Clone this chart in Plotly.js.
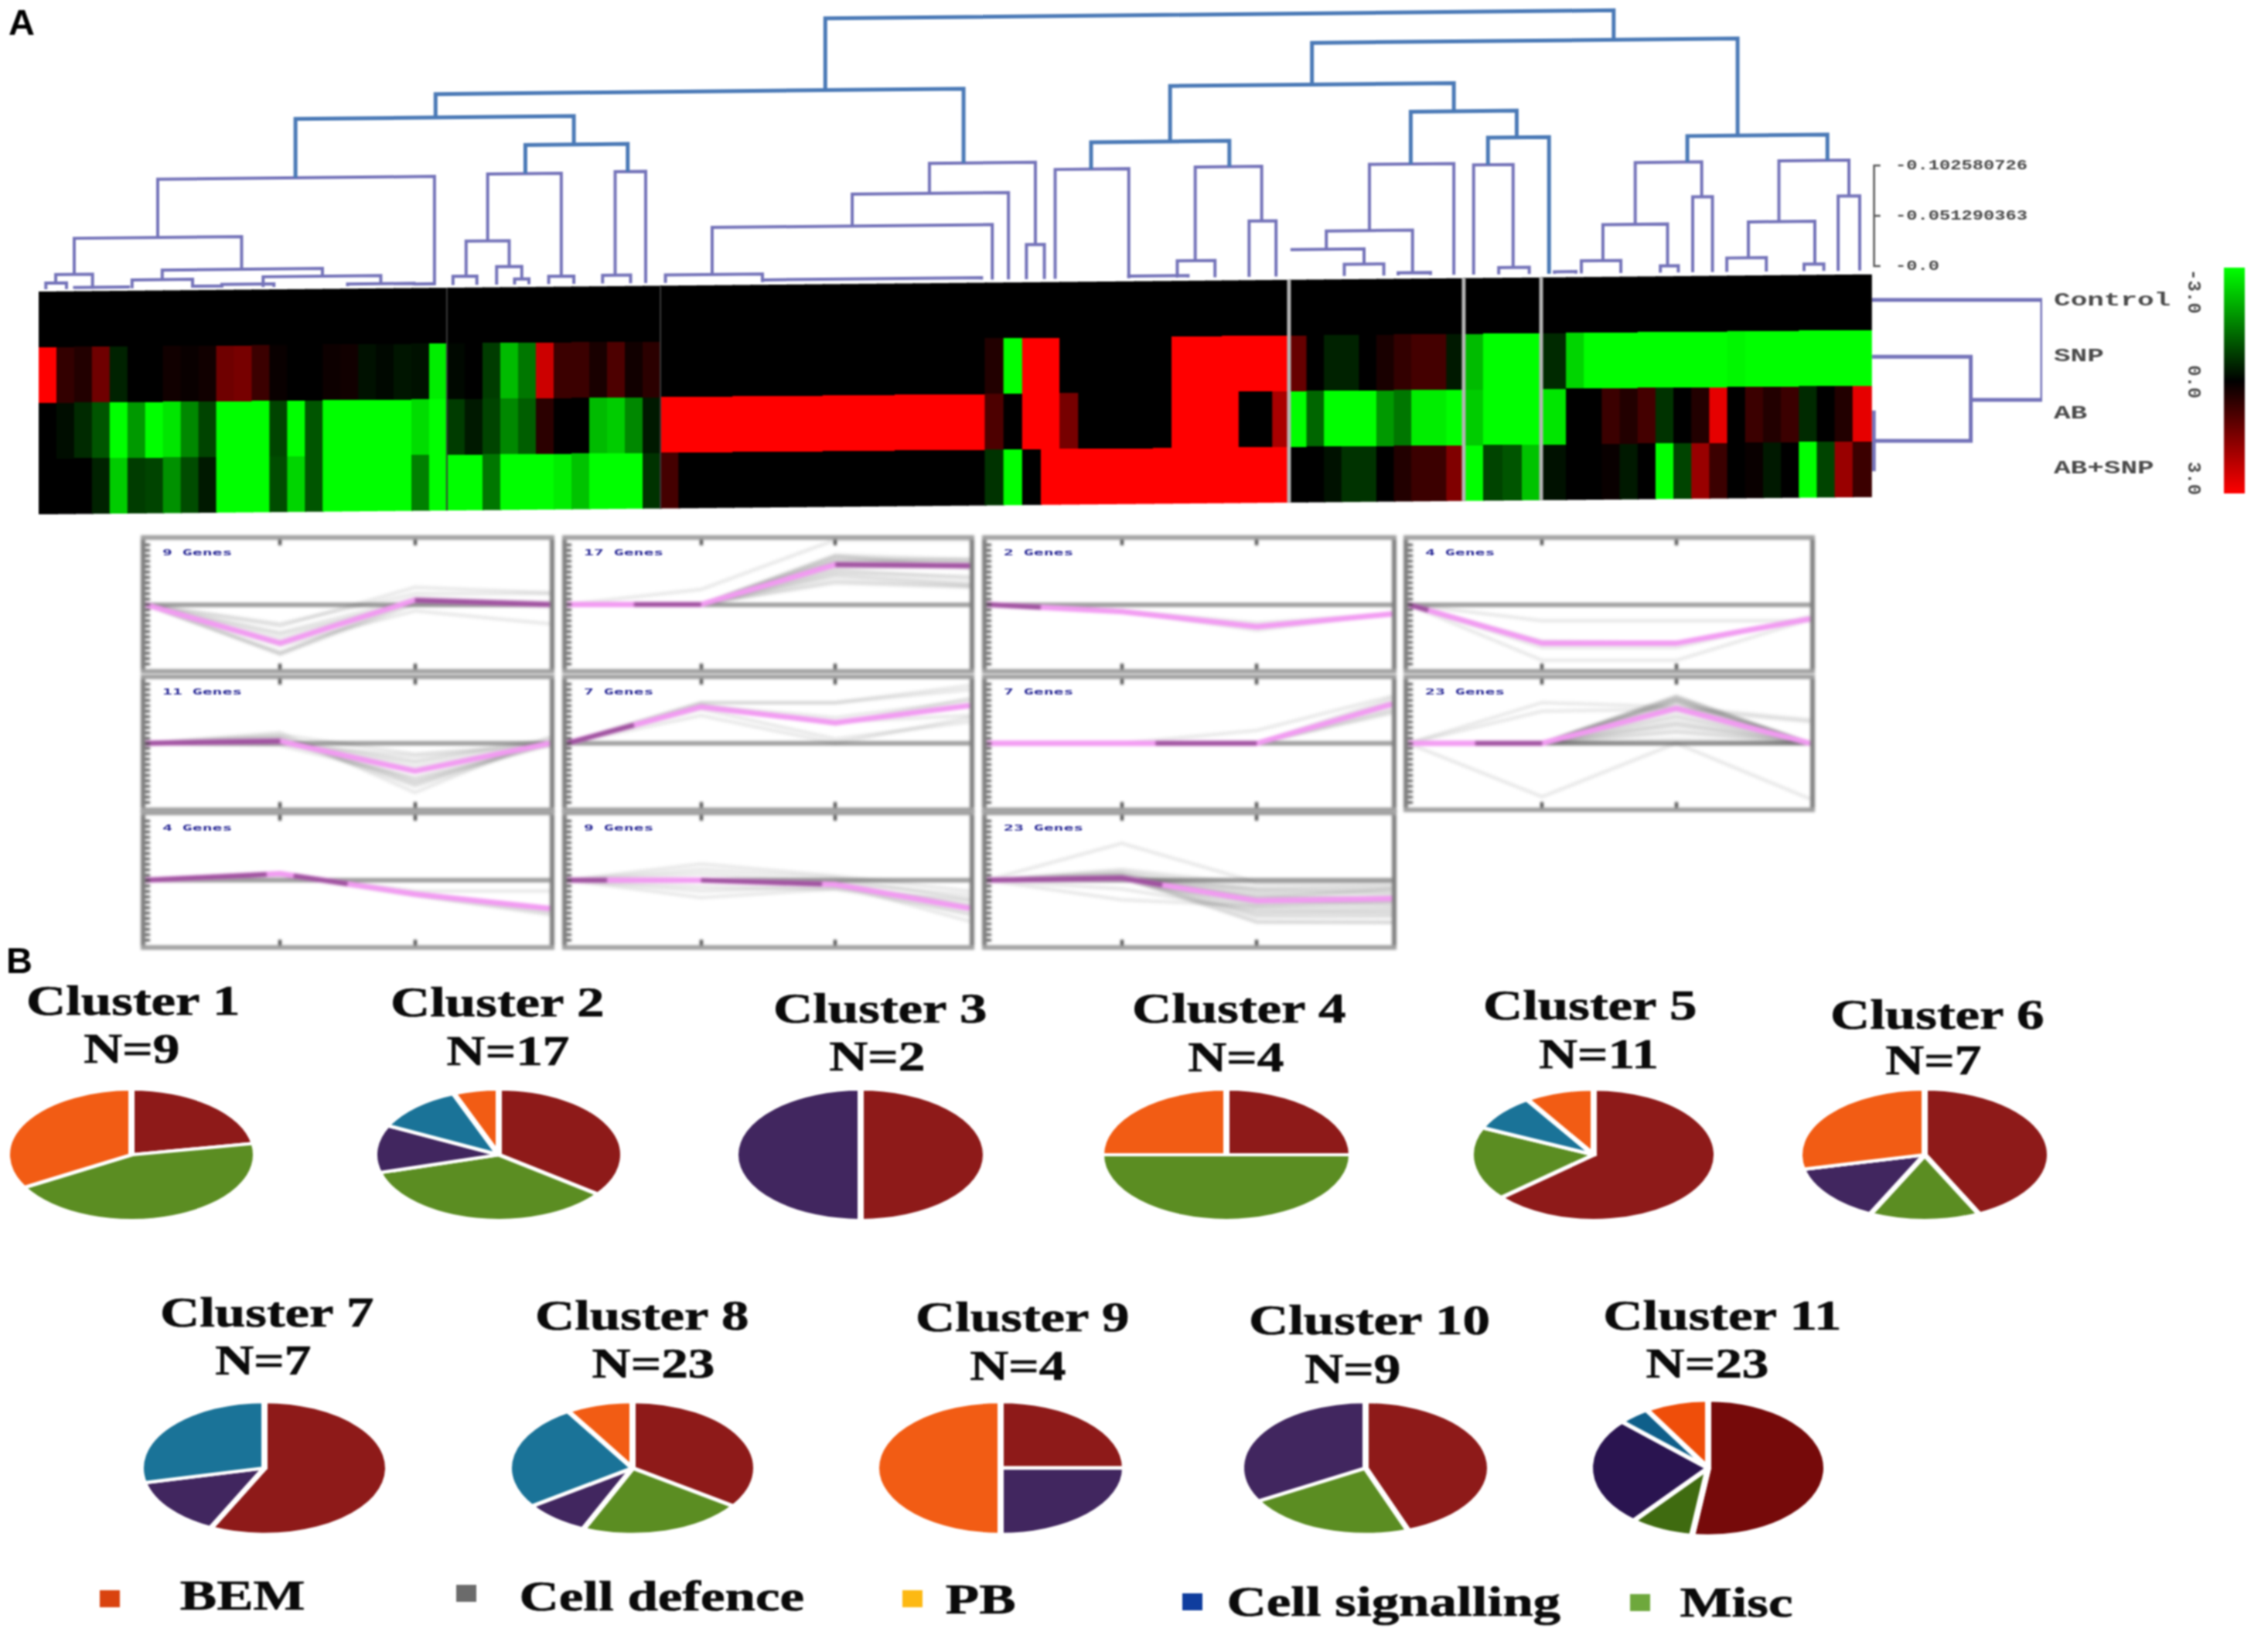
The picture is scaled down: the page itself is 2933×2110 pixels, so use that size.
<!DOCTYPE html>
<html><head><meta charset="utf-8">
<script src="https://cdn.plot.ly/plotly-3.0.1.min.js"></script>
<style>html,body{margin:0;padding:0;background:#fff;overflow:hidden}#g{width:2933px;height:2110px;filter:blur(1.3px)}</style>
</head><body><div id="g"></div>
<script>
/* ---------- heatmap data ---------- */
const rowNames = ['Control','SNP','AB','AB+SNP'];
const clusterSizes = [23,12,18,10,7,10,4,1,17];
const clusterEdges = [0,22.73,34.62,52.68,63.08,69.62,79.35,83.66,85.04,102];
const separators = [22.73,34.62,69.62,79.35,83.66];
const rowControl = [0,0,0,0,0,0,0,0,0,0,0,0,0,0,0,0,0,0,0,0,0,0,0, 0,0,0,0,0,0,0,0,0,0,0,0, 0,0,0,0,0,0,0,0,0,0,0,0,0,0,0,0,0,0,0,0,0,0,0,0,0,0,0,0,0,0,0,0,0,0,0, 0,0,0,0,0,0,0,0,0,0, 0,0,0,0, 0, 0,0,0,0,0,0,0,0,0,0,0,0,0,0,0,0,0];
const rowSNP = [3,.6,.4,1.3,-.4,0,0,.2,.1,.2,1.3,1.4,.7,.1,0,0,.15,.2,-.2,-.1,-.25,-.2,-2.8,
  -.1,0,-.7,-2.2,-1.4,2.4,.7,.7,.3,.9,.2,.5,
  0,0,0,0,0,0,0,0,0,0,0,0,0,0,0,0,0,0,.4,-3,3,3,0,0,0,0,0,0,3,3,3,3,3,3,3,
  1.2,0,-.4,-.4,0,.3,.6,.8,.8,-.3,
  -2.2,-3,-3,-3,
  -.5,
  -2.5,-3,-3,-3,-3,-3,-3,-3,-3,-2.9,-3,-3,-3,-3,-3,-3,-3];
const rowAB = [0,-.15,-.5,-1,-3,-1.8,-3,-2.7,-1.6,-.8,-3,-3,-3,-.8,-3,-1,-3,-3,-3,-3,-3,-2.6,-3,
  -.7,-.3,-.8,-1.6,-1.1,.5,0,0,-2.2,-2.4,-1.6,-.3,
  3,3,3,3,3,3,3,3,3,3,3,3,3,3,3,3,3,3,.9,0,3,3,1.4,0,0,0,0,0,3,3,3,3,0,0,2,
  -3,-1.2,-3,-3,-3,-1.8,-1.4,-2.8,-2.8,-3,
  -2.4,-3,-3,-3,
  -2.7,
  0,0,.7,.4,.8,-.6,0,.4,2.7,0,.7,.4,.7,-.5,0,.4,2.7];
const rowABSNP = [0,0,0,-.4,-2.4,-.7,-.8,-1.7,-.9,-.3,-3,-3,-3,-.9,-2.5,-1,-3,-3,-3,-3,-3,-1.5,-3,
  -3,-3,-1.4,-3,-3,-3,-2.8,-2.3,-3,-3,-3,-.6,
  .8,0,0,0,0,0,0,0,0,0,0,0,0,0,0,0,0,0,-.6,-3,0,3,3,3,3,3,3,3,3,3,3,3,3,3,3,
  0,0,-.2,-.6,-.6,0,.4,.7,.7,1.5,
  -3,-.8,-1,-2.3,
  -.2,
  0,0,.1,-.3,0,-3,-.8,1.8,.7,0,.1,-.3,0,-3,-.8,1.8,.7];
const colorStops = [-3,-2,-1,0,1,2,3];
const colorTicks = ['-3.0','0.0','3.0'];

/* ---------- column dendrogram: [left pos, right pos, height, left child height, right child height] ---------- */
const dendroLinks = [
 [0.4,1.55,6.2,0,0],[0.95,3,14.8,6.2,0],[5.2,8.57,8.6,0,0],[17.2,20.9,2.1,0,0],[12.5,19.05,10.4,0,2.1],
 [6.88,15.8,18.3,8.6,10.4],[1.98,11.3,51.6,14.8,18.3],[6.63,22.04,110.9,51.6,0],[23.07,24.4,8.9,0,0],
 [26.5,27.3,5.5,0,0],[25.5,26.9,18.3,0,5.5],[23.8,26.2,44.6,8.9,18.3],[28.4,29.8,7.9,0,0],[25,29.1,112.9,44.6,7.9],
 [31.4,32.96,8.4,0,0],[32.1,33.8,113.8,8.4,0],[27.1,32.8,142,112.9,113.8],[14.3,29.8,171,110.9,142],
 [34.9,40.3,8,0,0],[37.5,53.1,56,8,0],[45.3,54,88.5,56,0],[55,56,35.3,0,0],[49.6,55.5,119,88.5,35.3],[22.1,51.5,194.8,171,119],
 [56.6,60.7,111.5,0,0],[63.4,65.5,17.1,0,0],[67.4,68.9,56.9,0,0],[64.4,68.1,112.5,17.1,56.9],[58.6,66.3,138.9,111.5,112.5],
 [72.7,74.9,11.8,0,0],[69.7,73.8,27.4,27.4,11.8],[75.7,77.5,2.5,0,0],[71.7,76.5,45.9,27.4,2.5],[74.1,78.8,113.4,45.9,0],
 [81.3,83,6.8,0,0],[79.9,82.1,111.8,0,6.8],[80.7,84.1,139.4,111.8,0],[76.4,82.3,166.7,113.4,139.4],[63,78.8,195.4,138.9,166.7],
 [85.9,88.1,12.9,0,0],[90.3,91.3,6.9,0,0],[87.1,90.7,49.5,12.9,6.9],[92.1,93.2,76.9,0,0],[88.9,92.6,112.5,49.5,76.9],
 [94,96.2,14.2,0,0],[98.3,99.4,7.1,0,0],[95.2,98.9,50.8,14.2,7.1],[100.2,101.4,76.2,0,0],[96.9,100.8,112.7,50.8,76.2],
 [91.8,99.6,139,112.5,112.7],[70.9,94.6,237.9,195.4,139],[43.8,87.7,267.9,194.8,237.9],
 [10.2,13.1,3,0,0],[40.3,52.5,2,0,0],[60.7,64,2,0,0],[84.4,85.6,2,0,0],[2,5,1.5,0,0],[8.6,10.2,1.5,0,0],[20.9,22,1.5,0,0]
];
const scaleTickHeights = [23.7,74.9,126.1];
const scaleTickText = ['-0.102580726','-0.051290363','-0.0'];
/* row dendrogram: row positions and merge distances */
const rowPos = [0.15,1.17,2.17,3.19];
const rowMerges = [0.01,0.58,1.0];

/* ---------- cluster profiles (x = 4 conditions) ---------- */
const panelGenes = [9,17,2,4,11,7,7,23,4,9,23];
const conditions = [0,1,2,3];
const mean1=[0,-1.8,0.2,0], mean2=[0,0,1.85,1.8], mean3=[0,-.33,-1.03,-.44], mean4=[0,-1.8,-1.8,-.67],
      mean5=[0,.1,-1.3,0], mean6=[0,1.7,.96,1.76], mean7=[0,0,0,1.83], mean8=[0,0,1.63,0],
      mean9=[0,.3,-.64,-1.3], mean10=[0,0,-.2,-1.3], mean11=[0,.1,-.95,-.85];
const means=[mean1,mean2,mean3,mean4,mean5,mean6,mean7,mean8,mean9,mean10,mean11];
const genes1=[[0,-2.3,0,0],[0,-1.4,.1,0],[0,-1,.8,.55],[0,-.9,.5,.5],[0,-1.9,-.3,-.9],[0,-2.3,.25,.05],[0,-2.2,.1,-.05],[0,-1.6,.2,-.1],[0,-1.3,.3,.1]];
const genes2=[[0,0,2.3,2.1],[0,0,2.2,2],[0,0,1.9,1.8],[0,0,1.4,1],[0,0,1.3,.9],[0,0,1.1,.85],[0,0,1.5,1.3],[0,.7,3,3],[0,0,2,1.9],[0,0,2.1,1.9],[0,0,1.9,1.75],[0,0,1.8,1.7],[0,0,1.7,1.8],[0,0,2.25,1.7],[0,0,1.6,1.2],[0,0,1,.8],[0,0,2,2.1]];
const genes3=[[0,-.3,-1.2,-.4],[0,-.3,-.85,-.45]];
const genes4=[[0,-.75,-.75,-.75],[0,-2.6,-2.6,-.7],[0,-1.7,-1.8,-.65],[0,-2,-2,-.55]];
const genes5=[[0,.4,-.5,0],[0,.5,-2.3,.3],[0,.2,-1.8,0],[0,.3,-1.7,-.1],[0,0,-.9,0],[0,-.1,-1.6,0],[0,0,-.6,-.1],[0,.2,-2,0],[0,.3,-1.9,.1],[0,0,-1.1,-.1],[0,.1,-.8,.2]];
const genes6=[[0,1.9,1.9,2.7],[0,1.9,1.9,2.5],[0,1.3,0,1.2],[0,1.7,1,1.3],[0,1.8,.9,2.1],[0,1.6,.2,1],[0,1.75,1.2,2]];
const genes7=[[0,0,.6,2.2],[0,0,0,1.4],[0,0,0,2.1],[0,0,0,1.6],[0,0,0,1.9],[0,0,0,1.5],[0,0,0,1.9]];
const genes8=[[0,0,2.2,0],[0,0,2.2,0],[0,0,2.1,0],[0,0,2.1,0],[0,0,2,0],[0,0,2,0],[0,0,1.9,0],[0,0,1.9,0],[0,1.9,1.7,1.1],[0,1.5,1.6,1],[0,-2.5,0,-2.6],[0,0,1,0],[0,0,.5,0],[0,0,.2,0],[0,0,1.3,0],[0,0,0,0],[0,0,.8,0],[0,0,.6,0],[0,0,1.2,0],[0,0,1.5,0],[0,0,0,0],[0,0,1.7,0],[0,0,.9,0]];
const genes9=[[0,.25,-.7,-1.6],[0,.3,-.5,-.5],[0,.35,-.7,-1.5],[0,.2,-.6,-1.4]];
const genes10=[[0,.75,.2,-.5],[0,-.8,-.4,-.9],[0,.5,.1,-.9],[0,0,-.2,-1.9],[0,0,-.2,-1.6],[0,-.5,-.3,-1.1],[0,.3,-.1,-1.2],[0,0,-.1,-.7],[0,-.3,-.4,-1.5]];
const genes11=[[0,1.7,-.1,-.1],[0,.5,-.2,-.2],[0,-.9,-1.2,-1.2],[0,.1,-1.95,-1.95],[0,.2,-1.9,-1.95],[0,.1,-1.7,-1.7],[0,.2,-1.5,-1.4],[0,.1,-1.3,-1.3],[0,.3,-1.1,-.9],[0,.1,-.9,-.8],[0,.1,-.8,-.7],[0,.2,-.6,-.5],[0,.3,-.5,-.6],[0,.1,-.4,-.4],[0,0,-1,-1],[0,.1,-1.2,-1],[0,.2,-.9,-1.1],[0,.2,-.7,-.9],[0,.1,-1,-.8],[0,-.4,-1.4,-1.5],[0,.1,-.8,-.4],[0,.4,-.4,-.3],[0,.1,-1.6,-1.6]];
const genes=[genes1,genes2,genes3,genes4,genes5,genes6,genes7,genes8,genes9,genes10,genes11];
/* stretches of each mean line where the gene lines pile up and darken it */
const pileUps=[[[2,3]],[[.5,1],[2,3]],[[0,.4]],[[0,.15]],[[0,1]],[[0,.5]],[[1.25,2]],[[.5,1]],[[0,.9],[1.1,1.5]],[[0,.3],[1,1.9]],[[0,1.3]]];

/* ---------- pies ---------- */
const clusterNames=['Cluster 1','Cluster 2','Cluster 3','Cluster 4','Cluster 5','Cluster 6','Cluster 7','Cluster 8','Cluster 9','Cluster 10','Cluster 11'];
const clusterN=['N=9','N=17','N=2','N=4','N=11','N=7','N=7','N=23','N=4','N=9','N=23'];
const sliceLabels=['Cell defence','Misc','PB','Cell signalling','BEM'];
const slices1=[2,4,0,0,3], slices2=[6,6,2,2,1], slices3=[1,0,1,0,0], slices4=[1,2,0,0,1], slices5=[7,2,0,1,1], slices6=[3,1,1,0,2],
      slices7=[4,0,1,2,0], slices8=[8,5,2,6,2], slices9=[1,0,1,0,2], slices10=[4,2,3,0,0], slices11=[12,2,6,1,2];
const sliceSets=[slices1,slices2,slices3,slices4,slices5,slices6,slices7,slices8,slices9,slices10,slices11];
const legendNames=['BEM','Cell defence','PB','Cell signalling','Misc'];

/* ---------- styles & layout geometry ---------- */
const W=2933,H=2110;
const px=x=>x/W, py=y=>1-y/H;
const colPx=23.225, colLeft=50;
const tiltRows=0.31/102, tiltDist=0.188;
const green='#00ff00',red='#ff0000';
const cscale=[[0,green],[.5,'#000000'],[1,red]];
const data=[], shapes=[], ann=[], stretch=[];
const layout={width:W,height:H,margin:{l:0,r:0,t:0,b:0,pad:0},paper_bgcolor:'#fff',plot_bgcolor:'rgba(0,0,0,0)',showlegend:false,
  coloraxis:{cmin:-3,cmax:3,colorscale:cscale,showscale:false},hovermode:false};
const hidden={visible:false,showgrid:false,zeroline:false,fixedrange:true};

/* main axes */
layout.xaxis={...hidden,domain:[0,1],range:[-colLeft/colPx,(W-colLeft)/colPx]};
layout.yaxis={...hidden,domain:[py(670),py(340)],range:[(670-377)/72,(340-377)/72],anchor:'x'};
layout.yaxis2={...hidden,domain:[py(380),py(0)],range:[-4.7,294.9],anchor:'x'};
layout.xaxis2={...hidden,domain:[px(2421),px(2641)],range:[0,1],anchor:'y'};
layout.xaxis3={...hidden,domain:[px(2876),px(2903)],range:[0,1],anchor:'y3'};
layout.yaxis3={...hidden,domain:[py(638),py(346)],range:[3,-3],anchor:'x3'};

/* heatmap columns */
const rows=[rowControl,rowSNP,rowAB,rowABSNP];
let k=0;
clusterSizes.forEach((n,g)=>{
  const a=clusterEdges[g],b=clusterEdges[g+1],w=(b-a)/n;
  for(let i=0;i<n;i++,k++){
    const c0=a+i*w,c1=a+(i+1)*w,mid=(c0+c1)/2,t=mid*tiltRows;
    data.push({type:'heatmap',x:[c0,c1+0.1],y:[0,1,2,3,4].map(r=>r-t),z:rows.map(r=>[r[k]]),coloraxis:'coloraxis',xaxis:'x',yaxis:'y',zsmooth:false,hoverinfo:'skip'});
  }
});
/* cluster separators */
separators.forEach((c,i)=>{
  data.push({type:'scatter',mode:'lines',x:[c,c],y:[0-c*tiltRows,4-c*tiltRows],xaxis:'x',yaxis:'y',hoverinfo:'skip',
    line:{color:i<2?'#3a3a3a':'#b4b4b4',width:i<2?2:5}});
});
/* column dendrogram */
function links(filter,color,width){
  const xs=[],ys=[];
  dendroLinks.filter(filter).forEach(([l,r,h,hl,hr])=>{
    const T=c=>c*tiltDist;
    xs.push(l,l,r,r,null);
    ys.push(hl+T(l),h+T(l),h+T(r),hr+T(r),null);
  });
  data.push({type:'scatter',mode:'lines',x:xs,y:ys,xaxis:'x',yaxis:'y2',hoverinfo:'skip',line:{color,width}});
}
links(d=>d[2]<125,'#7473b9',4);
links(d=>d[2]>=125,'#4a79b6',5);
/* height scale bracket */
{const c=102.2,d=.35,T=h=>h;
 data.push({type:'scatter',mode:'lines',x:[c+d,c,c,c+d,null,c,c+d],y:[T(scaleTickHeights[0]),T(scaleTickHeights[0]),T(scaleTickHeights[2]),T(scaleTickHeights[2]),null,T(scaleTickHeights[1]),T(scaleTickHeights[1])],
   xaxis:'x',yaxis:'y2',hoverinfo:'skip',line:{color:'#555',width:2.5}});}
/* row dendrogram */
{const [c,s,a,b]=rowPos,[m0,m1,m2]=rowMerges,ab=(a+b)/2,sab=(s+ab)/2+0.02;
 data.push({type:'scatter',mode:'lines',
   x:[0,m0,m0,0,null,m0,m1,m1,0,null,m1,m2,m2,0],
   y:[a,a,b,b,null,ab,ab,s,s,null,sab,sab,c,c],xaxis:'x2',yaxis:'y',hoverinfo:'skip',line:{color:'#7473b9',width:5}});}
/* colour bar */
data.push({type:'heatmap',x:[0,1],y:colorStops,z:colorStops.map(v=>[v,v]),coloraxis:'coloraxis',xaxis:'x3',yaxis:'y3',zsmooth:'best',hoverinfo:'skip'});

/* text helper */
function T(text,x,y,size,family,color,sx,anchor,angle){
  ann.push({text,xref:'paper',yref:'paper',x:px(x),y:py(y),xanchor:anchor||'center',yanchor:'middle',showarrow:false,
    font:{size,family,color},textangle:angle||0,borderpad:0,borderwidth:0});
  stretch.push({sx:sx||1,anchor:anchor||'center',heavy:size>=50});
}
T('<b>A</b>',28,28,47,'Liberation Sans','#000');
T('<b>B</b>',25,1241,47,'Liberation Sans','#000');
const mono='Liberation Mono', serif='Liberation Serif';
[388,461,534,605].forEach((y,i)=>T('<b>'+rowNames[i]+'</b>',2656,y,24,mono,'#4a4a4a',1.5,'left'));
[214,279,344].forEach((y,i)=>T('<b>'+scaleTickText[i]+'</b>',2451,y,19,mono,'#4a4a4a',1.25,'left'));
[377,493,618].forEach((y,i)=>T('<b>'+colorTicks[i]+'</b>',2837,y,24,mono,'#4a4a4a',1,'center',90));

/* profile panels */
const panelCols=[[188,711],[733,1254],[1276,1800],[1821,2341]];
const panelRows=[[698,865],[878,1044],[1054,1222]];
const panelPos=[[0,0],[1,0],[2,0],[3,0],[0,1],[1,1],[2,1],[3,1],[0,2],[1,2],[2,2]];
panelPos.forEach(([cI,rI],i)=>{
  const id=i+4,[x0,x1]=panelCols[cI],[y0,y1]=panelRows[rI];
  layout['xaxis'+id]={domain:[px(x0),px(x1)],range:[0,3],anchor:'y'+id,showgrid:false,zeroline:false,showticklabels:false,fixedrange:true,
    tickvals:[1,2],ticks:'inside',ticklen:7,tickwidth:4,tickcolor:'#444',showline:true,linecolor:'#a0a0a0',linewidth:6,mirror:'allticks'};
  layout['yaxis'+id]={domain:[py(y1),py(y0)],range:[-3,3],anchor:'x'+id,showgrid:false,zeroline:true,zerolinecolor:'#a0a0a0',zerolinewidth:6,showticklabels:false,fixedrange:true,
    dtick:.25,tick0:0,ticks:'inside',ticklen:6,tickwidth:3,tickcolor:'#444',showline:true,linecolor:'#808080',linewidth:6,mirror:true};
  genes[i].forEach(g=>data.push({type:'scatter',mode:'lines',x:conditions,y:g,xaxis:'x'+id,yaxis:'y'+id,hoverinfo:'skip',line:{color:'rgba(70,70,70,.11)',width:5}}));
  data.push({type:'scatter',mode:'lines',x:conditions,y:means[i],xaxis:'x'+id,yaxis:'y'+id,hoverinfo:'skip',line:{color:'#f29af2',width:7}});
  /* darker stretches: interpolate along the plotted mean line */
  const m=means[i],at=x=>{const j=Math.min(2,Math.floor(x));return m[j]+(m[j+1]-m[j])*(x-j);};
  pileUps[i].forEach(([a,b])=>{
    const xs=[a,...conditions.filter(c=>c>a&&c<b),b];
    data.push({type:'scatter',mode:'lines',x:xs,y:xs.map(at),xaxis:'x'+id,yaxis:'y'+id,hoverinfo:'skip',line:{color:'rgba(90,20,90,.55)',width:6}});
  });
  T('<b>'+panelGenes[i]+' Genes</b>',x0+22,y0+16,11,'DejaVu Sans Mono','#2a2a96',1.95,'left');
});

/* pies */
const sliceColors=['#8e1a19','#5b8d22','#41265f','#1a7398','#f25c14'];
const darkColors=['#760a0a','#3f6b10','#2a1450','#0f5f8a','#ef4e0a'];
const pieGeo=[[170,1493,161,85],[645,1493,161,85],[1113,1493,162,85],[1586,1493,162,85],[2061,1493,159,85],[2489,1493,162,85],
              [342,1898,160,86],[818,1898,160,86],[1294,1898,161,86],[1766,1898,161,86],[2209,1898,153,88]];
const pieTitle=[[172,1293,170,1355],[643,1295,657,1358],[1138,1303,1134,1365],[1602,1303,1598,1366],[2056,1299,2067,1362],[2505,1311,2500,1370],
                [345,1696,340,1758],[830,1700,845,1762],[1322,1702,1316,1765],[1771,1706,1749,1769],[2227,1700,2208,1762]];
const squash=[];
sliceSets.forEach((vals,i)=>{
  const [cx,cy,rx,ry]=pieGeo[i];
  data.push({type:'pie',labels:sliceLabels,values:vals,sort:false,direction:'clockwise',rotation:0,textinfo:'none',hoverinfo:'skip',
    domain:{x:[px(cx-rx),px(cx+rx)],y:[py(cy+rx),py(cy-rx)]},
    marker:{colors:i===10?darkColors:sliceColors,line:{color:'#fff',width:8}}});
  squash.push({cy,k:ry/rx});
  const [tx,ty,nx,ny]=pieTitle[i];
  T('<b>'+clusterNames[i]+'</b>',tx,ty,55,serif,'#0a0a0a',1.29);
  T('<b>'+clusterN[i]+'</b>',nx,ny,55,serif,'#0a0a0a',1.26);
});

/* legend */
const legendGeo=[[142,2067,313,2062,'#d9430f'],[603,2060,856,2063,'#6b6b6b'],[1180,2067,1268,2067,'#fdb913'],[1542,2071,1802,2070,'#0f3d9e'],[2121,2072,2245,2071,'#6ea83c']];
legendGeo.forEach(([mx,my,tx,ty,col],i)=>{
  shapes.push({type:'rect',xref:'paper',yref:'paper',x0:px(mx-13),x1:px(mx+13),y0:py(my+11),y1:py(my-11),fillcolor:col,line:{width:0}});
  T('<b>'+legendNames[i]+'</b>',tx,ty,55,serif,'#0a0a0a',1.29);
});
layout.shapes=shapes; layout.annotations=ann;

Plotly.newPlot('g',data,layout,{staticPlot:true,displayModeBar:false}).then(gd=>{
  /* the source picture is stretched: squash pies into ellipses and widen text */
  gd.querySelectorAll('.pielayer .trace').forEach((t,i)=>{
    const {cy,k}=squash[i];
    t.setAttribute('transform',`translate(0,${cy}) scale(1,${k}) translate(0,${-cy})`);
  });
  gd.querySelectorAll('.annotation').forEach(a=>{
    const i=+a.getAttribute('data-index'),s=stretch[i];
    if(!s)return;
    if(s.heavy)a.querySelectorAll('text').forEach(t=>{t.style.stroke='#0a0a0a';t.style.strokeWidth='0.7px';});
    if(s.sx===1)return;
    const b=a.getBBox(),p=s.anchor==='left'?b.x:b.x+b.width/2;
    a.setAttribute('transform',`translate(${p},0) scale(${s.sx},1) translate(${-p},0)`);
  });
  /* the profile panels are softer than the rest of the source */
  gd.querySelectorAll('.cartesianlayer .subplot').forEach(sp=>{
    const m=sp.getAttribute('class').match(/\bx(\d+)y\1\b/);
    if(m&&+m[1]>=4)sp.style.filter='blur(1.6px)';
  });
});
</script></body></html>
